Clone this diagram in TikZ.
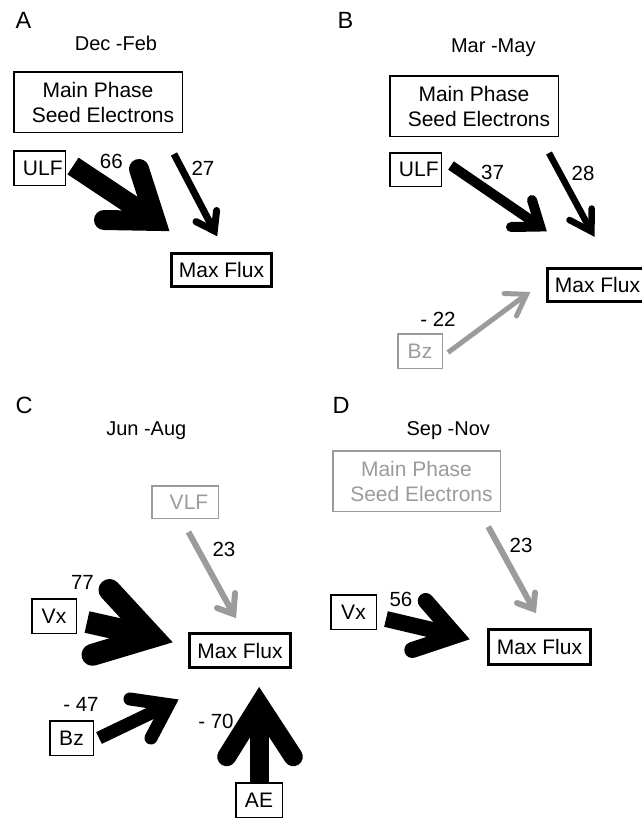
\documentclass[tikz,border=0pt]{standalone}
\usepackage{fontspec}
\setmainfont{Liberation Sans}
\definecolor{grayc}{RGB}{155,155,155}
\newcommand\boxfnt{\fontsize{21pt}{25pt}\selectfont}
\newcommand\numfnt{\fontsize{20.5pt}{24pt}\selectfont}
\newcommand\titfnt{\fontsize{20pt}{24pt}\selectfont}
\newcommand\letfnt{\fontsize{23.5pt}{27pt}\selectfont}
% #1 colour, #2 width, #3 start, #4 vertex, #5 wing 1, #6 wing 2
\newcommand\fatarr[6][black]{%
  \draw[#1,line width=#2pt,line cap=butt] (#3) -- (#4);
  \draw[#1,line width=#2pt,line cap=round,line join=miter] (#5) -- (#4) -- (#6);}
\tikzset{
  box/.style={draw,line width=1.5pt,inner sep=0pt,font=\boxfnt},
  fluxbox/.style={box,line width=3pt},
  graybox/.style={box,draw=grayc,text=grayc},
  numlbl/.style={inner sep=0pt,font=\numfnt},
  title/.style={inner sep=0pt,anchor=base,font=\titfnt},
  letter/.style={inner sep=0pt,anchor=base,font=\letfnt},
}
\begin{document}
\begin{tikzpicture}[x=1pt,y=-1pt]
\useasboundingbox (0,0) rectangle (642,820);

% ---------------- Panel A ----------------
\node[letter] (letA) at (23.5,28.5) {A};
\node[title] (titA) at (116,50) {Dec -Feb};
\node[box,align=center,minimum width=168.5,minimum height=60.5] (mainA) at (98,102) {Main Phase\\\hspace*{10pt}Seed Electrons};
\node[box,minimum width=51.5,minimum height=34.5] (ulfA) at (39.5,168) {\hspace*{6.6pt}ULF};
\node[fluxbox,minimum width=100,minimum height=33] (fluxA) at (221.5,270) {Max Flux};
\coordinate (a66s) at (73,166);
\coordinate (a66v) at (155.7,220.9);
\coordinate (a66a) at (139,169);
\coordinate (a66b) at (104,220);
\fatarr{20}{a66s}{a66v}{a66a}{a66b}
\coordinate (a27s) at (174,154);
\coordinate (a27v) at (214.3,230.9);
\coordinate (a27a) at (216.6,210.5);
\coordinate (a27b) at (196,221.6);
\fatarr{7}{a27s}{a27v}{a27a}{a27b}
\node[numlbl] (nA66) at (111.3,161) {66};
\node[numlbl] (nA27) at (203,168.3) {27};

% ---------------- Panel B ----------------
\node[letter] (letB) at (345.5,28.5) {B};
\node[title] (titB) at (493.3,52) {Mar -May};
\node[box,align=center,minimum width=168.5,minimum height=60.5] (mainB) at (474,106) {Main Phase\\\hspace*{10pt}Seed Electrons};
\node[box,minimum width=51.5,minimum height=33.5] (ulfB) at (415.5,169.5) {\hspace*{6.6pt}ULF};
\node[fluxbox,minimum width=100,minimum height=33.5] (fluxB) at (597.5,285) {Max Flux};
\node[graybox,minimum width=44.5,minimum height=34.5] (bzB) at (420,351) {Bz};
\coordinate (b37s) at (451,165.5);
\coordinate (b37v) at (540.1,226.5);
\coordinate (b37a) at (532,200);
\coordinate (b37b) at (511,227);
\fatarr{10}{b37s}{b37v}{b37a}{b37b}
\coordinate (b28s) at (549,153);
\coordinate (b28v) at (591.4,231.5);
\coordinate (b28a) at (591.7,208.5);
\coordinate (b28b) at (569.5,220);
\fatarr{6.5}{b28s}{b28v}{b28a}{b28b}
\coordinate (b22s) at (448,352.5);
\coordinate (b22v) at (526.6,294.3);
\coordinate (b22a) at (504,293.5);
\coordinate (b22b) at (516.5,316);
\fatarr[grayc]{5}{b22s}{b22v}{b22a}{b22b}
\node[numlbl] (nB37) at (492.5,172.3) {37};
\node[numlbl] (nB28) at (583,173.3) {28};
\node[numlbl] (nB22) at (438,319) {- 22};

% ---------------- Panel C ----------------
\node[letter] (letC) at (24,413) {C};
\node[title] (titC) at (146.3,435.7) {Jun -Aug};
\node[graybox,minimum width=66.5,minimum height=32.5] (vlfC) at (185,502) {\hspace*{8pt}VLF};
\node[fluxbox,minimum width=101,minimum height=34] (fluxC) at (240,650.5) {Max Flux};
\node[box,minimum width=44.5,minimum height=34.5] (vxC) at (54,616) {Vx};
\node[box,minimum width=43.5,minimum height=34.5] (bzC) at (71.5,738) {Bz};
\node[box,minimum width=46.5,minimum height=34.5] (aeC) at (259,800) {AE};
\coordinate (c23s) at (188.5,532);
\coordinate (c23v) at (233.4,614);
\coordinate (c23a) at (235,593);
\coordinate (c23b) at (217,608);
\fatarr[grayc]{6}{c23s}{c23v}{c23a}{c23b}
\coordinate (c77s) at (87,622);
\coordinate (c77v) at (152.7,636.8);
\coordinate (c77a) at (109.5,590);
\coordinate (c77b) at (92.5,654.8);
\fatarr{22}{c77s}{c77v}{c77a}{c77b}
\coordinate (c47s) at (99,738);
\coordinate (c47v) at (168.6,704.6);
\coordinate (c47a) at (130,699);
\coordinate (c47b) at (151,738);
\fatarr{13}{c47s}{c47v}{c47a}{c47b}
\coordinate (c70s) at (259.3,782);
\coordinate (c70v) at (259.3,704.6);
\coordinate (c70a) at (226.7,756.7);
\coordinate (c70b) at (293.3,756.7);
\fatarr{19}{c70s}{c70v}{c70a}{c70b}
\node[numlbl] (nC23) at (224,549) {23};
\node[numlbl] (nC77) at (82.5,582.5) {77};
\node[numlbl] (nC47) at (81,704.5) {- 47};
\node[numlbl] (nC70) at (216,721) {- 70};

% ---------------- Panel D ----------------
\node[letter] (letD) at (341,413) {D};
\node[title] (titD) at (448.3,435) {Sep -Nov};
\node[graybox,align=center,minimum width=167.5,minimum height=60.5] (mainD) at (416.5,481) {Main Phase\\\hspace*{10pt}Seed Electrons};
\node[box,minimum width=45.5,minimum height=34.5] (vxD) at (353.5,612) {Vx};
\node[fluxbox,minimum width=102,minimum height=35] (fluxD) at (539.5,647) {Max Flux};
\coordinate (d23s) at (488.3,526.7);
\coordinate (d23v) at (533.4,609);
\coordinate (d23a) at (535,592.5);
\coordinate (d23b) at (517,603);
\fatarr[grayc]{6}{d23s}{d23v}{d23a}{d23b}
\coordinate (d56s) at (386,619);
\coordinate (d56v) at (455.8,635.5);
\coordinate (d56a) at (425.7,601);
\coordinate (d56b) at (412.3,650);
\fatarr{16}{d56s}{d56v}{d56a}{d56b}
\node[numlbl] (nD23) at (521,545.5) {23};
\node[numlbl] (nD56) at (401,599) {56};
\end{tikzpicture}
\end{document}
